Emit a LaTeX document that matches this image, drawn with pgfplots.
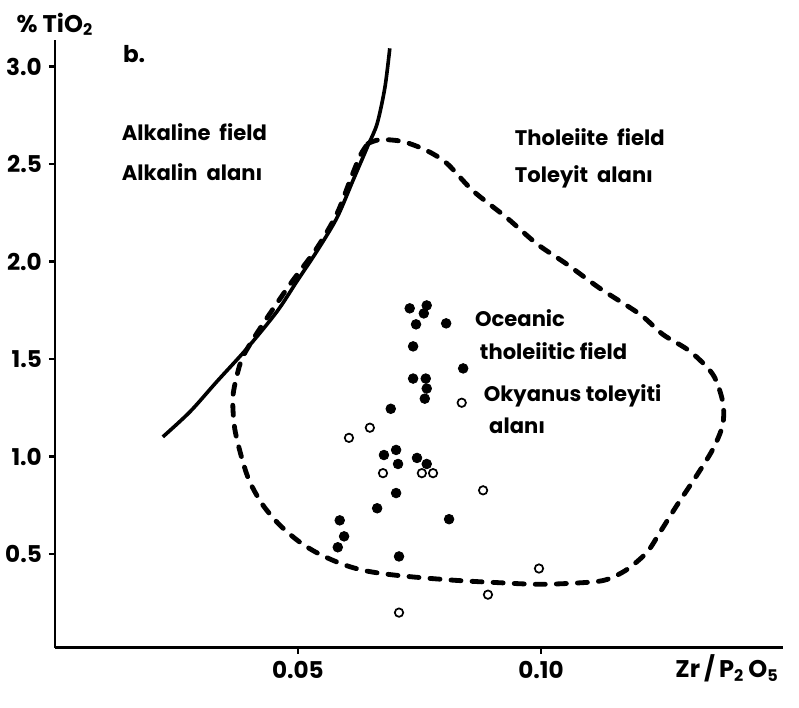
\documentclass[border=0pt]{standalone}
\usepackage{fontspec}
\setmainfont{Poppins}
\usepackage{pgfplots}
\pgfplotsset{compat=1.18}
\usetikzlibrary{calc}

\begin{document}
\begin{tikzpicture}[font=\bfseries\fontsize{10.5}{12}\selectfont]
\begin{axis}[
  scale only axis,
  width=362.5pt, height=302.5pt,
  xmin=0, xmax=0.1498,
  ymin=0.02, ymax=3.135,
  axis lines=left,
  axis line style={-, line width=1.4pt},
  clip=false,
  xtick={0.05,0.10}, xticklabels={0.05,0.10},
  ytick={0.5,1.0,1.5,2.0,2.5,3.0},
  yticklabels={0.5,1.0,1.5,2.0,2.5,3.0},
  tick align=outside,
  major tick length=3pt,
  tick style={line width=1.1pt, black},
  ticklabel style={font=\bfseries\fontsize{11.5}{12}\selectfont},
  /pgf/number format/assume math mode=true,
]
% alkaline / tholeiite divide
\addplot[line width=1.8pt, smooth] coordinates {
  (0.0222,1.101) (0.0278,1.230) (0.0333,1.384) (0.0395,1.554)
  (0.0457,1.744) (0.0498,1.899) (0.0539,2.053) (0.0580,2.223)
  (0.0613,2.414) (0.0644,2.594) (0.0663,2.707) (0.0679,2.893)
  (0.0689,3.093)
};
% tholeiite field (dashed)
\addplot[line width=2.4pt, smooth, line cap=round,
  dash pattern=on 5pt off 5.5pt] coordinates {
  (0.0644,2.605) (0.0669,2.625) (0.0716,2.615) (0.0765,2.569)
  (0.0807,2.502) (0.0860,2.363) (0.0930,2.224) (0.0992,2.090)
  (0.1053,1.987) (0.1121,1.863) (0.1204,1.729) (0.1251,1.626)
  (0.1307,1.539) (0.1354,1.420) (0.1374,1.281) (0.1374,1.163)
  (0.1354,1.039) (0.1321,0.905) (0.1280,0.751) (0.1245,0.612)
  (0.1218,0.509) (0.1177,0.421) (0.1136,0.370) (0.1095,0.355)
  (0.0998,0.345) (0.0901,0.355) (0.0827,0.365) (0.0745,0.381)
  (0.0683,0.397) (0.0634,0.417) (0.0593,0.447) (0.0545,0.499)
  (0.0504,0.561) (0.0463,0.648) (0.0428,0.751) (0.0401,0.870)
  (0.0385,0.988) (0.0370,1.143) (0.0366,1.297) (0.0374,1.410)
  (0.0387,1.513) (0.0422,1.657) (0.0484,1.884) (0.0539,2.069)
  (0.0580,2.244) (0.0607,2.414) (0.0628,2.543) (0.0644,2.605)
};
% filled samples
\addplot[only marks, mark=*, mark size=2.4pt, black] coordinates {
  (0.0730,1.760) (0.0765,1.775) (0.0759,1.734) (0.0743,1.678)
  (0.0805,1.683) (0.0737,1.565) (0.0840,1.452) (0.0737,1.400)
  (0.0763,1.400) (0.0765,1.349) (0.0761,1.297) (0.0691,1.245)
  (0.0677,1.008) (0.0702,1.034) (0.0706,0.962) (0.0745,0.993)
  (0.0765,0.962) (0.0702,0.813) (0.0663,0.735) (0.0811,0.679)
  (0.0586,0.673) (0.0595,0.591) (0.0582,0.535) (0.0708,0.488)
};
% open samples
\addplot[only marks, mark=o, mark size=2.1pt, black,
  mark options={line width=0.85pt}] coordinates {
  (0.0837,1.276) (0.0648,1.148) (0.0605,1.096) (0.0675,0.915)
  (0.0755,0.915) (0.0778,0.915) (0.0881,0.827) (0.0996,0.426)
  (0.0891,0.292) (0.0708,0.200)
};

\node[anchor=base] at (axis cs:0.0,3.176) {\fontsize{12}{12}\selectfont\% TiO\textsubscript{2}};
\node[anchor=base] at (axis cs:0.0163,3.02) {\fontsize{11.5}{12}\selectfont b.};
\node[anchor=base west] at (axis cs:0.0123,2.620) {Alkaline\ \ field};
\node[anchor=base west] at (axis cs:0.0123,2.414) {Alkalin\ \ alanı};
\node[anchor=base west] at (axis cs:0.0932,2.594) {Tholeiite\ \ field};
\node[anchor=base west] at (axis cs:0.0932,2.403) {Toleyit\ \ alanı};
\node[anchor=base west] at (axis cs:0.0850,1.667) {Oceanic};
\node[anchor=base west] at (axis cs:0.0860,1.498) {tholeiitic field};
\node[anchor=base west] at (axis cs:0.0868,1.281) {Okyanus toleyiti};
\node[anchor=base west] at (axis cs:0.0879,1.116) {alanı};
\node[anchor=base] at (axis cs:0.1383,-0.135) {\fontsize{12}{12}\selectfont Zr\,/\,P\textsubscript{2}\,O\textsubscript{5}};

\coordinate (bbsw) at (axis cs:-0.0113,-0.284);
\coordinate (bbne) at (axis cs:0.1531,3.341);
\end{axis}
\pgfresetboundingbox
\path[use as bounding box] (bbsw) rectangle (bbne);
\end{tikzpicture}
\end{document}
